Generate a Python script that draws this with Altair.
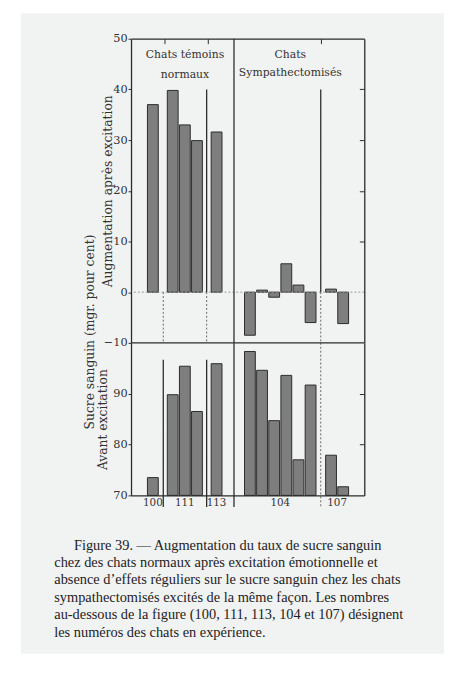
import altair as alt
import pandas as pd

# ---------------- data ----------------
groups = ["100", "111", "113", "104", "107"]
increase = [[37.0], [39.8, 33.0, 29.9], [31.6], [-8.5, 0.4, -1.0, 5.6, 1.4, -6.0], [0.6, -6.2]]
before = [[73.5], [89.8, 95.4, 86.5], [95.9], [98.3, 94.6, 84.7, 93.6, 77.0, 91.7], [77.9, 71.7]]
upper_ticks = [-10, 0, 10, 20, 30, 40, 50]
lower_ticks = [70, 80, 90]
panel_titles = ["Chats témoins", "normaux", "Chats", "Sympathectomisés"]
ytitle_top = "Augmentation après excitation"
ytitle_bottom = "Avant excitation"
ytitle_common = "Sucre sanguin (mgr. pour cent)"
caption_lines = [
    "Figure 39. — Augmentation du taux de sucre sanguin",
    "chez des chats normaux après excitation émotionnelle et",
    "absence d’effets réguliers sur le sucre sanguin chez les chats",
    "sympathectomisés excités de la même façon. Les nombres",
    "au-dessous de la figure (100, 111, 113, 104 et 107) désignent",
    "les numéros des chats en expérience.",
]

# ---------------- layout ----------------
W, H_UP, H_LO = 237, 309, 155
H = H_UP + H_LO
XMAX = W / 13.0
group_first = [1.38, 3.0, 6.58, 9.3, 15.92]
bar_step = 0.99
SERIF = "Liberation Serif"
OLD = "DejaVu Serif"
INK = "#2b2b2b"

rows = []
for g, first, inc, bef in zip(groups, group_first, increase, before):
    for i, (a, b) in enumerate(zip(inc, bef)):
        rows.append({"cat": g, "pos": first + i * bar_step, "inc": a, "bef": b})
bars = pd.DataFrame(rows)
glabels = bars.groupby("cat", sort=False)["pos"].mean().reset_index()

up_solid = pd.DataFrame({"x": [5.77, 15.08, 8.0], "y1": [40, 40, 50], "y2": [0, 0, -10]})
up_dot = pd.DataFrame({"x": [2.23, 5.77, 15.08], "y1": [0, 0, 0], "y2": [-10, -10, -10]})
lo_solid = pd.DataFrame({"x": [2.23, 5.77, 8.0], "y1": [96.7, 96.7, 100], "y2": [67.7, 67.7, 67.7]})
lo_dot = pd.DataFrame({"x": [15.08], "y1": [100], "y2": [67.7]})
ptitles = pd.DataFrame({"t": panel_titles, "x": [4.0, 4.0, 12.6, 12.6], "y": [46.8, 42.9, 46.8, 43.3]})
one = pd.DataFrame({"k": [0]})

xs = alt.Scale(domain=[0, XMAX], nice=False, zero=False)
yU = alt.Scale(domain=[-10, 50], range=[H_UP, 0], nice=False, zero=False)
yL = alt.Scale(domain=[70, 100], range=[H, H_UP], nice=False, zero=False)

def xenc(field, axis=None):
    return alt.X(field, type="quantitative", scale=xs, axis=axis)

bg = alt.Chart(one).mark_rect(fill="#f1f2f2").encode(
    x=alt.value(-112), x2=alt.value(318), y=alt.value(-26), y2=alt.value(625)
)

top_axis = alt.Axis(orient="bottom", offset=-H, values=[2.3, 5.9, 15.12], labels=False,
                    domain=True, ticks=True, tickSize=5, title=None, zindex=1)
bottom_axis = alt.Axis(orient="bottom", labels=False, domain=True, ticks=False, title=None, zindex=1)

up_bars = alt.Chart(bars).mark_bar(size=11, fill="#7e7e7e", stroke=INK, strokeWidth=1).encode(
    x=xenc("pos", top_axis),
    y=alt.Y("inc:Q", scale=yU, axis=alt.Axis(orient="left", values=upper_ticks, title=ytitle_top,
                                             titleX=-24, titleBaseline="middle", tickSize=3,
                                             labelPadding=1, zindex=1)),
    y2=alt.datum(0),
)

lo_bars = alt.Chart(bars).mark_bar(size=11, fill="#7e7e7e", stroke=INK, strokeWidth=1).encode(
    x=xenc("pos", bottom_axis),
    y=alt.Y("bef:Q", scale=yL, axis=alt.Axis(orient="left", values=lower_ticks, title=ytitle_bottom,
                                             titleX=-29, titleBaseline="middle", tickSize=3,
                                             labelPadding=1, zindex=1)),
    y2=alt.datum(70),
)

zero_rule = alt.Chart(one).mark_rule(color="#9a9a9a", strokeDash=[2, 2], strokeWidth=1).encode(
    y=alt.YDatum(0, scale=yU, axis=alt.Axis(orient="left", offset=-W, values=[10, 20, 30, 40],
                                            labels=False, domain=True, tickSize=5, title=None,
                                            zindex=1)),
)

mid_rule = alt.Chart(one).mark_rule(color=INK, strokeWidth=1.4).encode(
    y=alt.YDatum(100, scale=yL, axis=alt.Axis(orient="left", offset=-W, values=[80, 90],
                                              labels=False, domain=True, tickSize=5, title=None,
                                              zindex=1)),
)

def seps(df, scale, dash):
    mk = alt.Chart(df).mark_rule(color=INK if not dash else "#666", strokeWidth=1.3 if not dash else 1,
                                 strokeDash=[2, 2] if dash else [1, 0])
    return mk.encode(x=xenc("x"), y=alt.Y("y1:Q", scale=scale, axis=None), y2="y2:Q")

ptext = alt.Chart(ptitles).mark_text(font=OLD, fontSize=11, color="#333", baseline="middle").encode(
    x=xenc("x"), y=alt.Y("y:Q", scale=yU, axis=None), text="t:N"
)

gtext = alt.Chart(glabels).mark_text(font=OLD, fontSize=10.5, color="#333", baseline="middle").encode(
    x=xenc("pos"), y=alt.value(H + 8), text="cat:N"
)

common_title = alt.Chart(one).mark_text(font=OLD, fontSize=12.5, color="#333", angle=270,
                                        baseline="middle", align="center").encode(
    x=alt.value(-42), y=alt.value(298), text=alt.value(ytitle_common)
)

cap_style = dict(font=SERIF, fontSize=14.6, color="#222", align="left", baseline="top")
caption1 = alt.Chart(one).mark_text(**cap_style).encode(
    x=alt.value(-58), y=alt.value(507), text=alt.value(caption_lines[0])
)
caption2 = alt.Chart(one).mark_text(lineBreak="\n", lineHeight=17.7, **cap_style).encode(
    x=alt.value(-78), y=alt.value(507 + 17.7), text=alt.value("\n".join(caption_lines[1:]))
)

chart = alt.layer(
    bg, up_bars, lo_bars, zero_rule,
    seps(up_solid, yU, False), seps(up_dot, yU, True),
    seps(lo_solid, yL, False), seps(lo_dot, yL, True),
    mid_rule, ptext, gtext, common_title, caption1, caption2,
).resolve_scale(y="independent").resolve_axis(x="independent", y="independent").properties(
    width=W, height=H, padding={"left": 13, "top": 0, "right": 0, "bottom": 0},
).configure_view(stroke=None).configure_axis(
    grid=False, domainColor=INK, tickColor=INK, domainWidth=1.3, labelFont=OLD, labelFontSize=11.5,
    labelColor="#333", titleFont=OLD, titleFontSize=12.5, titleColor="#333",
    titleFontWeight="normal",
)

chart.save("out.html", embed_options={"renderer": "svg", "actions": False})
